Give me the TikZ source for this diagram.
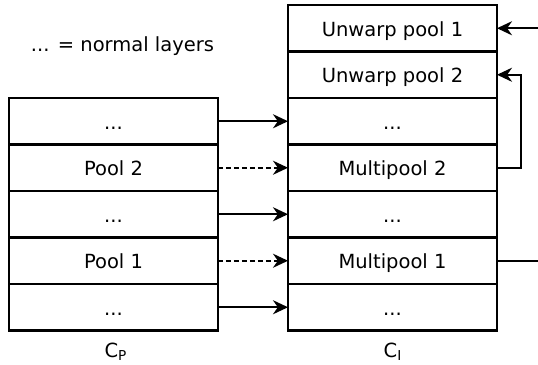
\documentclass[tikz,border=0pt]{standalone}
\usepackage{fontspec}
\setmainfont{DejaVu Sans}
\usetikzlibrary{arrows.meta,positioning}

\begin{document}
\begin{tikzpicture}[x=0.5pt,y=-0.5pt,>={Stealth[length=7.5pt,width=7pt]},line width=1.1pt,
  font=\fontsize{9.75}{12}\selectfont,
  block/.style={draw,rectangle,minimum width=104.5pt,minimum height=23.25pt,inner sep=0pt,outer sep=0pt,
    text height=0.8em,text depth=0pt},
  skip/.style={->,dash pattern=on 2.5pt off 1.5pt}]
\useasboundingbox (0,0) rectangle (538,365);
% --- C_I: unwarp stack
\node[block] (unwarp1) at (392.5,28.25) {Unwarp pool 1};
\node[block,below=0pt of unwarp1] (unwarp2) {Unwarp pool 2};
\node[block,below=0pt of unwarp2] (r3) {...};
\node[block,below=0pt of r3] (mpool2) {Multipool 2};
\node[block,below=0pt of mpool2] (r2) {...};
\node[block,below=0pt of r2] (mpool1) {Multipool 1};
\node[block,below=0pt of mpool1] (r1) {...};
% --- C_P: pooling stack
\node[block,left=35pt of r3] (l3) {...};
\node[block,below=0pt of l3] (lpool2) {Pool 2};
\node[block,below=0pt of lpool2] (l2) {...};
\node[block,below=0pt of l2] (lpool1) {Pool 1};
\node[block,below=0pt of lpool1] (l1) {...};
% --- copies across
\draw[->] (l3) -- (r3);
\draw[skip] (lpool2) -- (mpool2);
\draw[->] (l2) -- (r2);
\draw[skip] (lpool1) -- (mpool1);
\draw[->] (l1) -- (r1);
% --- in, out, and the loop back
\coordinate (in) at (538,28.25);
\coordinate (out) at (538,260.75);
\draw[->] (in) -- (unwarp1);
\draw (mpool1) -- (out);
\draw[->] (mpool2.east) -- ++(24,0) |- (unwarp2.east);
% --- labels
\node (key) at (122.5,46) {... = normal layers};
\node (cp) at (116,352) {C\textsubscript{P}};
\node (ci) at (393,352) {C\textsubscript{I}};
\end{tikzpicture}
\end{document}
